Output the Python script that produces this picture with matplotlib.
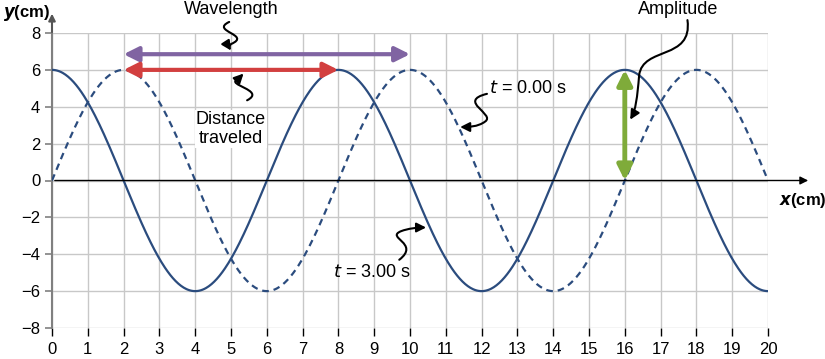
import numpy as np
import matplotlib
matplotlib.use("Agg")
import matplotlib.pyplot as plt
from matplotlib.path import Path
from matplotlib.patches import FancyArrowPatch

plt.rcParams['font.family'] = ['Liberation Sans', 'DejaVu Sans']

# Wave data
amplitude = 6.0          # cm
wavelength = 8.0         # cm
shift_t3 = 2.0           # cm: t=3.00 s curve leads t=0.00 s curve by 2 cm (peaks at 0, 8, 16)
x_ticks = list(range(0, 21))
y_ticks = [-8, -6, -4, -2, 0, 2, 4, 6, 8]
x_range = (0, 20)

navy = '#2b4c7e'
purple = '#8064a2'
red = '#d23f3f'
green = '#7fab3a'

fig = plt.figure(figsize=(8.25, 3.59), dpi=100)
ax = fig.add_axes([52/825, 1-328/359, (768-52)/825, (328-33)/359])

x = np.linspace(x_range[0], x_range[1], 800)
y0 = amplitude * np.sin(2*np.pi*x/wavelength)
y3 = amplitude * np.sin(2*np.pi*(x + shift_t3)/wavelength)

ax.plot(x, y0, color=navy, lw=1.6, ls=(0, (3, 2.2)), zorder=3)
ax.plot(x, y3, color=navy, lw=1.6, zorder=3)

ax.set_xlim(0, 20)
ax.set_ylim(-8, 8)
ax.set_xticks(x_ticks)
ax.set_yticks(y_ticks)
ax.set_yticklabels([str(v).replace('-', '\u2212') for v in y_ticks])
ax.grid(True, color='#c8c8c8', lw=1.0, zorder=0)
for s in ['top', 'right', 'bottom']:
    ax.spines[s].set_visible(False)
ax.spines['left'].set_color('#808080')
ax.spines['left'].set_linewidth(1.5)
ax.tick_params(axis='y', colors='#808080', labelcolor='black', length=5, width=1.2, labelsize=12)
ax.tick_params(axis='x', colors='black', length=6, width=1.0, labelsize=12, pad=4)

# x axis line at y=0 with arrow
ax.annotate('', xy=(21.2, 0), xytext=(0, 0), xycoords='data',
            arrowprops=dict(arrowstyle='-|>', color='black', lw=1.0, mutation_scale=12),
            annotation_clip=False, zorder=4)
# y axis arrow
ax.annotate('', xy=(0, 9.2), xytext=(0, 7.9),
            arrowprops=dict(arrowstyle='-|>', color='#555555', lw=1.5, mutation_scale=10),
            annotation_clip=False)

fig.text(3/825, 1-13/359, r'$\bfit{y}$' + '(cm)', fontsize=12, fontweight='bold', va='center', ha='left')
ax.text(20.3, -0.55, r'$\bfit{x}$' + '(cm)', fontsize=12, fontweight='bold', va='top', ha='left')

# Double arrows
ax.annotate('', xy=(2.0, 6.85), xytext=(10.0, 6.85),
            arrowprops=dict(arrowstyle='<|-|>', color=purple, lw=3, mutation_scale=22, shrinkA=0, shrinkB=0), zorder=5)
ax.annotate('', xy=(2.0, 6.0), xytext=(8.0, 6.0),
            arrowprops=dict(arrowstyle='<|-|>', color=red, lw=3, mutation_scale=22, shrinkA=0, shrinkB=0), zorder=5)
ax.annotate('', xy=(16.0, 6.0), xytext=(16.0, 0.0),
            arrowprops=dict(arrowstyle='<|-|>', color=green, lw=3.5, mutation_scale=22, shrinkA=0, shrinkB=0), zorder=5)

def squiggle(verts, codes):
    p = Path(verts, codes)
    a = FancyArrowPatch(path=p, arrowstyle='-|>', color='black', lw=1.5,
                        mutation_scale=14, zorder=6, clip_on=False)
    ax.add_patch(a)

C = Path.CURVE4
M = Path.MOVETO
# Wavelength
squiggle([(4.95, 8.6), (4.4, 8.1), (5.6, 7.9), (5.0, 7.4), (4.95, 7.3), (4.95, 7.2), (5.0, 7.05)],
         [M, C, C, C, C, C, C])
# Distance travelled
squiggle([(5.45, 4.35), (6.0, 4.9), (4.8, 5.2), (5.2, 5.5), (5.25, 5.6), (5.3, 5.7), (5.35, 5.8)],
         [M, C, C, C, C, C, C])
# t = 0.00 s
squiggle([(12.15, 4.7), (11.3, 4.3), (12.4, 3.6), (12.1, 3.2), (11.9, 2.9), (11.6, 2.9), (11.4, 2.9)],
         [M, C, C, C, C, C, C])
# t = 3.00 s
squiggle([(9.7, -4.3), (10.3, -3.4), (9.3, -3.1), (9.75, -2.75), (9.95, -2.6), (10.2, -2.55), (10.45, -2.55)],
         [M, C, C, C, C, C, C])
# Amplitude
squiggle([(17.75, 8.7), (17.9, 6.5), (16.5, 7.3), (16.4, 5.7), (16.35, 4.5), (16.3, 3.8), (16.15, 3.3)],
         [M, C, C, C, C, C, C])

fs = 13
ax.text(5.0, 9.3, 'Wavelength', ha='center', va='center', fontsize=fs, clip_on=False)
ax.text(5.0, 2.8, 'Distance\ntraveled', ha='center', va='center', fontsize=fs, linespacing=1.2,
        bbox=dict(facecolor='white', edgecolor='none', pad=0.5))
ax.text(12.2, 5.0, r'$t$ = 0.00 s', ha='left', va='center', fontsize=fs)
ax.text(7.85, -5.0, r'$t$ = 3.00 s', ha='left', va='center', fontsize=fs)
ax.text(17.5, 9.3, 'Amplitude', ha='center', va='center', fontsize=fs, clip_on=False)

fig.savefig('out.png', dpi=100)
